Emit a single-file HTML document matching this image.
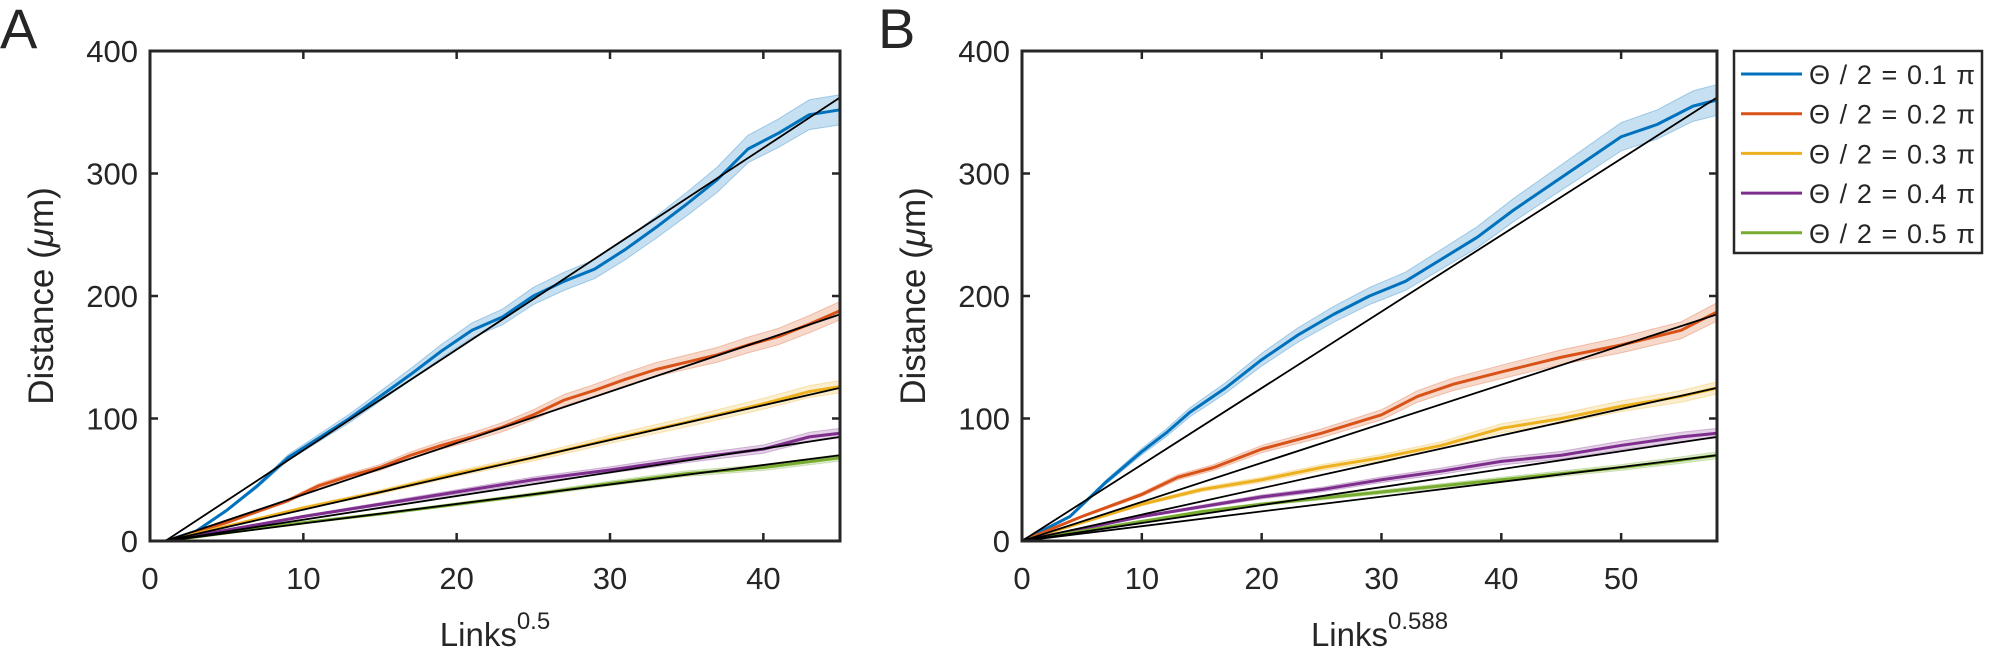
<!DOCTYPE html>
<html><head><meta charset="utf-8"><style>
body{margin:0;background:#fff}
svg text{font-family:"Liberation Sans",sans-serif;fill:#262626}
</style></head><body>
<svg id="fig" xmlns="http://www.w3.org/2000/svg" width="2009" height="656" viewBox="0 0 2009 656"></svg>
<script>
const seriesLabels=["Θ / 2 = 0.1 π","Θ / 2 = 0.2 π","Θ / 2 = 0.3 π","Θ / 2 = 0.4 π","Θ / 2 = 0.5 π"];
const colors=["#0072BD","#D95319","#EDB120","#7E2F8E","#77AC30"];
const fitEnds=[362,185,125,85,70];
const errFrac=[0.035,0.04,0.04,0.045,0.04];
const yTicks=[0,100,200,300,400];
const xTicksA=[0,10,20,30,40];
const xTicksB=[0,10,20,30,40,50];
// Panel A data [x,y]
const aBlue=[[1,0],[3,8],[5,25],[7,45],[9,68],[11,84],[13,100],[15,118],[17,136],[19,155],[21,172],[23,183],[25,200],[27,212],[29,222],[31,238],[33,256],[35,275],[37,295],[39,320],[41,333],[43,348],[45,352]];
const aRed=[[1,0],[5,15],[9,33],[11,45],[13,53],[15,60],[17,70],[19,78],[21,85],[23,93],[25,103],[27,115],[29,123],[31,132],[33,140],[35,146],[37,152],[39,160],[41,167],[43,177],[45,188]];
const aYellow=[[1,0],[5,12],[10,27],[15,40],[20,55],[25,68],[30,83],[35,97],[40,112],[43,122],[45,126]];
const aPurple=[[1,0],[10,20],[15,30],[20,40],[25,50],[30,58],[35,67],[40,75],[43,85],[45,88]];
const aGreen=[[1,0],[10,15],[15,22],[20,30],[25,38],[30,47],[35,55],[40,60],[45,68]];
// Panel B data
const bBlue=[[0,0],[4,20],[7,48],[10,73],[12,88],[14,105],[17,125],[20,148],[23,168],[26,185],[29,200],[32,212],[35,230],[38,248],[41,270],[44,290],[47,310],[50,330],[53,340],[56,355],[58,360]];
const bRed=[[0,0],[5,20],[10,38],[13,52],[16,60],[20,75],[25,88],[30,103],[33,118],[36,128],[40,138],[45,150],[50,160],[55,172],[58,187]];
const bYellow=[[0,0],[5,15],[10,30],[15,42],[20,50],[25,60],[30,68],[35,78],[40,92],[45,100],[50,110],[55,118],[58,125]];
const bPurple=[[0,0],[10,20],[15,28],[20,36],[25,42],[30,50],[35,57],[40,65],[45,70],[50,78],[55,85],[58,88]];
const bGreen=[[0,0],[10,16],[15,24],[20,30],[25,35],[30,40],[40,50],[45,55],[50,60],[55,66],[58,70]];

const NS="http://www.w3.org/2000/svg";
const svg=document.getElementById('fig');
function mk(tag,attrs,parent){const e=document.createElementNS(NS,tag);for(const k in attrs)e.setAttribute(k,attrs[k]);(parent||svg).appendChild(e);return e;}

function panel(p){
  const g=mk('g',{});
  
  
  const sx=v=>p.x0+(v-0)/(p.xmax)*(p.x1-p.x0);
  const sy=v=>p.y0-(v/400)*(p.y0-p.y1);
  const lt=mk('text',{x:p.letterX,y:48,'font-size':56},g);lt.textContent=p.id;
  
  
  p.data.forEach((d,i)=>{
    const up=d.map(q=>sx(q[0])+','+sy(q[1]*(1+errFrac[i]))).join(' ');
    const dn=d.slice().reverse().map(q=>sx(q[0])+','+sy(q[1]*(1-errFrac[i]))).join(' ');
    const band=mk('polygon',{points:up+' '+dn,fill:colors[i],'fill-opacity':0.22,stroke:colors[i],'stroke-opacity':0.3,'stroke-width':1},g);
    
    
    const line=mk('polyline',{points:d.map(q=>sx(q[0])+','+sy(q[1])).join(' '),fill:'none',stroke:colors[i],'stroke-width':3,'stroke-linejoin':'round'},g);
    
    
  });
  fitEnds.forEach((v,i)=>{
    const f=mk('line',{x1:sx(p.fitStart),y1:sy(0),x2:sx(p.xmax),y2:sy(v),stroke:'#000','stroke-width':1.8},g);
    
    
  });
  const box=mk('rect',{x:p.x0,y:p.y1,width:p.x1-p.x0,height:p.y0-p.y1,fill:'none',stroke:'#262626','stroke-width':3},g);
  
  
  yTicks.forEach(t=>{
    const y=sy(t);
    mk('line',{x1:p.x0,y1:y,x2:p.x0+8,y2:y,stroke:'#262626','stroke-width':2.5},g);
    mk('line',{x1:p.x1,y1:y,x2:p.x1-8,y2:y,stroke:'#262626','stroke-width':2.5},g);
    const tx=mk('text',{x:p.x0-12,y:y+11,'font-size':31,'text-anchor':'end'},g);tx.textContent=t;
    
    
  });
  p.xt.forEach(t=>{
    const x=sx(t);
    mk('line',{x1:x,y1:p.y0,x2:x,y2:p.y0-8,stroke:'#262626','stroke-width':2.5},g);
    mk('line',{x1:x,y1:p.y1,x2:x,y2:p.y1+8,stroke:'#262626','stroke-width':2.5},g);
    const tx=mk('text',{x:x,y:589,'font-size':31,'text-anchor':'middle'},g);tx.textContent=t;
    
    
  });
  const yl=mk('text',{x:0,y:0,'font-size':35,'text-anchor':'middle',transform:`translate(${p.x0-97},${(p.y0+p.y1)/2}) rotate(-90)`},g);
  yl.innerHTML='Distance (<tspan font-style="italic">μ</tspan>m)';
  
  
  const xl=mk('text',{x:(p.x0+p.x1)/2+p.xlOff,y:646,'font-size':33,'text-anchor':'middle'},g);
  xl.innerHTML='Links<tspan dy="-17" font-size="24">'+p.exp+'</tspan>';
  
  
}
panel({id:'A',letterX:0,x0:150,x1:840,y0:541,y1:51,xmax:45,fitStart:1,xt:xTicksA,exp:'0.5',xlOff:0,data:[aBlue,aRed,aYellow,aPurple,aGreen]});
panel({id:'B',letterX:878,x0:1022,x1:1717,y0:541,y1:51,xmax:58,fitStart:0,xt:xTicksB,exp:'0.588',xlOff:10,data:[bBlue,bRed,bYellow,bPurple,bGreen]});

const lg=mk('g',{});


mk('rect',{x:1734,y:51,width:248,height:202,fill:'#fff',stroke:'#262626','stroke-width':2.5},lg);
seriesLabels.forEach((s,i)=>{
  const y=74+i*39.7;
  const e=mk('g',{},lg);
  
  
  mk('line',{x1:1741,y1:y,x2:1802,y2:y,stroke:colors[i],'stroke-width':3},e);
  const t=mk('text',{x:1809,y:y+10,'font-size':27,fill:'#000',textLength:166,lengthAdjust:'spacing'},e);t.textContent=s;
});
</script>
</body></html>
